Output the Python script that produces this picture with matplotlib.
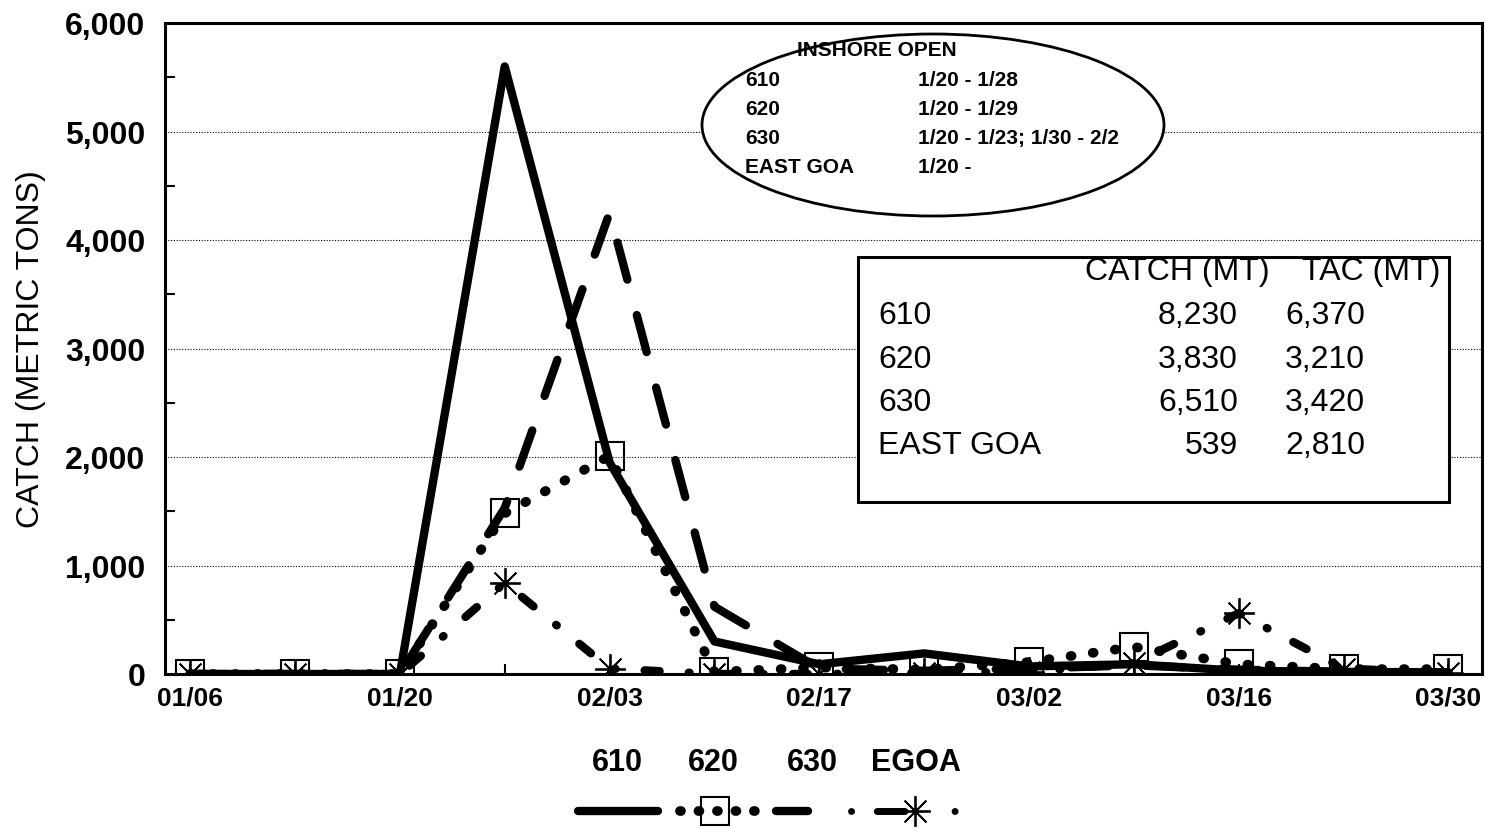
import matplotlib
matplotlib.use('Agg')
import matplotlib.pyplot as plt
from matplotlib.patches import Ellipse, Rectangle
from matplotlib.ticker import FuncFormatter, MultipleLocator

plt.rcParams['font.family'] = ['Liberation Sans', 'DejaVu Sans']

# weekly catch (metric tons), weeks ending
WEEKS = ['01/06','01/13','01/20','01/27','02/03','02/10','02/17',
         '02/24','03/02','03/09','03/16','03/23','03/30']
C610 = [0, 0, 0, 5600, 1950, 300, 90, 190, 70, 90, 30, 20, 15]
C620 = [0, 0, 0, 1480, 2010, 20, 60, 40, 110, 250, 90, 45, 45]
C630 = [0, 0, 0, 1530, 4250, 620, 50, 30, 50, 80, 40, 20, 10]
CEGOA = [0, 0, 0, 840, 50, 0, 0, 10, 20, 100, 560, 50, 10]

SERIES = ['610', '620', '630', 'EGOA']

INSHORE = [('610', '1/20 - 1/28'), ('620', '1/20 - 1/29'),
           ('630', '1/20 - 1/23; 1/30 - 2/2'), ('EAST GOA', '1/20 -')]
TABLE_ROWS = ['610', '620', '630', 'EAST GOA']
CATCH_MT = ['8,230', '3,830', '6,510', '539']
TAC_MT = ['6,370', '3,210', '3,420', '2,810']

W, H = 1485, 829
fig = plt.figure(figsize=(W/100, H/100), dpi=100)
ax = fig.add_axes([165/W, 1-675/H, (1482-165)/W, (675-24)/H])

x = list(range(len(WEEKS)))
styles = {
    '610': dict(ls='-', lw=6),
    '620': dict(ls=(0, (0.1, 2.2)), lw=7),
    '630': dict(ls=(0, (4.6, 4.4)), lw=6),
    'EGOA': dict(ls=(0, (1.8, 3.5, 0.1, 3.5)), lw=6),
}

def draw(a, xs, ys, key, z):
    st = styles[key]
    a.plot(xs, ys, color='black', lw=st['lw'], ls=st['ls'], solid_capstyle='round',
           dash_capstyle='round', zorder=z)
    if key == '620':
        a.plot(xs, ys, ls='none', marker='s', ms=20, mfc='none', mec='black', mew=1.5, zorder=z+0.5)
    if key == 'EGOA':
        a.plot(xs, ys, ls='none', marker=(8, 2, 0), ms=22, mec='black', mew=1.3, zorder=z+0.5)

draw(ax, x, C630, '630', 3)
draw(ax, x, CEGOA, 'EGOA', 4)
draw(ax, x, C620, '620', 5)
draw(ax, x, C610, '610', 6)

ax.set_xlim(-0.24, 12.32)
ax.set_ylim(0, 6000)
ax.set_xticks(x[::2])
ax.set_xticklabels(WEEKS[::2])
ax.xaxis.set_minor_locator(MultipleLocator(1))
ax.yaxis.set_major_locator(MultipleLocator(1000))
ax.yaxis.set_minor_locator(MultipleLocator(500))
ax.yaxis.set_major_formatter(FuncFormatter(lambda v, p: f'{int(v):,}'))
ax.tick_params(which='both', direction='in', length=7, width=1.5)
ax.tick_params(axis='y', which='major', length=0, pad=14)
ax.tick_params(axis='x', which='major', pad=8)
for t in ax.get_yticklabels():
    t.set_fontsize(23)
    t.set_fontweight('bold')
for t in ax.get_xticklabels():
    t.set_family(['Liberation Sans Narrow', 'Liberation Sans'])
    t.set_fontsize(19)
    t.set_fontweight('bold')
ax.set_ylabel('CATCH (METRIC TONS)', fontsize=23, labelpad=14)
ax.grid(axis='y', which='major', color='black', lw=0.8, ls=(0, (1, 1.5)))
for s in ax.spines.values():
    s.set_linewidth(2.2)

# overlay in pixel coordinates for the annotation boxes and legend
ov = fig.add_axes([0, 0, 1, 1])
ov.set_xlim(0, W)
ov.set_ylim(H, 0)
ov.axis('off')
ov.patch.set_visible(False)

ov.add_patch(Ellipse((933, 126), 462, 182, facecolor='white', edgecolor='black', lw=2, zorder=10))
ov.text(797, 50, 'INSHORE OPEN', fontsize=15, fontweight='bold', va='center', zorder=11)
for i, (a, b) in enumerate(INSHORE):
    yy = 80 + i*29
    ov.text(745, yy, a, fontsize=15, fontweight='bold', va='center', zorder=11)
    ov.text(918, yy, b, fontsize=15, fontweight='bold', va='center', zorder=11)

ov.add_patch(Rectangle((858, 258), 591, 245, facecolor='white', edgecolor='black', lw=2.2, zorder=10))
ov.text(1270, 272, 'CATCH (MT)', fontsize=23, ha='right', va='center', zorder=11)
ov.text(1440, 272, 'TAC (MT)', fontsize=23, ha='right', va='center', zorder=11)
for i, r in enumerate(TABLE_ROWS):
    yy = 316 + i*43.5
    ov.text(878, yy, r, fontsize=23, va='center', zorder=11)
    ov.text(1238, yy, CATCH_MT[i], fontsize=23, ha='right', va='center', zorder=11)
    ov.text(1365, yy, TAC_MT[i], fontsize=23, ha='right', va='center', zorder=11)

# legend: labels above line samples
leg_lab_x = [617, 713, 812, 916]
for lab, lx in zip(SERIES, leg_lab_x):
    ov.text(lx, 763, lab, fontsize=22, fontweight='bold', ha='center', va='center')
draw(ov, [578, 658], [812, 812], '610', 3)
ov.plot([680, 756], [812, 812], color='black', lw=7, ls=(0, (0.1, 1.8)), dash_capstyle='round')
ov.plot([715], [812], ls='none', marker='s', ms=20, mfc='none', mec='black', mew=1.5)
ov.plot([776, 808], [812, 812], color='black', lw=6, ls='-', solid_capstyle='round')
ov.plot([851, 958], [812, 812], color='black', lw=5, ls=(0, (0.01, 3.7, 4, 7.2)), dash_capstyle='round')
ov.plot([915], [812], ls='none', marker=(8, 2, 0), ms=22, mec='black', mew=1.3)

fig.savefig('out.png', dpi=100)
